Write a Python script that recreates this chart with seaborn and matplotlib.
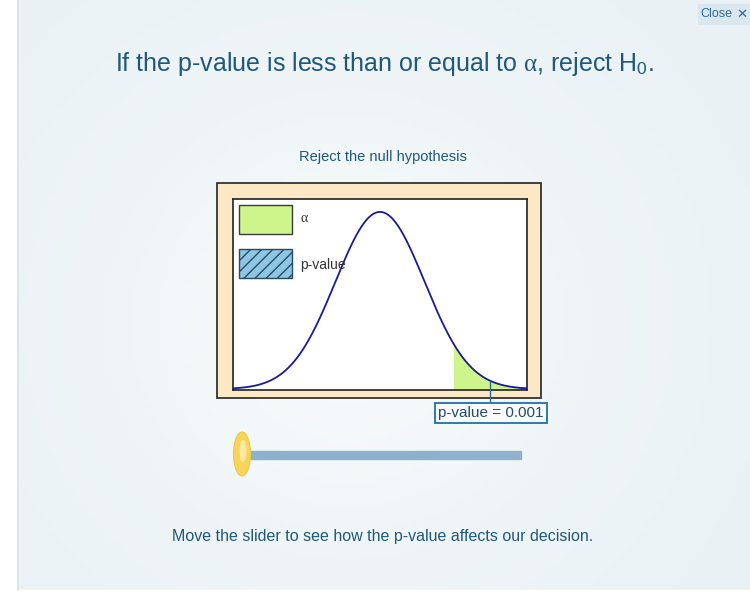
import numpy as np
import pandas as pd
import matplotlib
matplotlib.use("Agg")
import matplotlib.pyplot as plt
import seaborn as sns
from matplotlib.patches import Rectangle, Ellipse

# parameters of the chart
mean = 0.0
sd = 1.0
alpha = 0.05
alpha_cut = 1.645       # z for alpha = 0.05 (one tail)
p_value = 0.001
p_cut = 3.09            # z for p = 0.001
marker_z = 2.47         # where the label pointer touches the curve
x_range = (-3.3, 3.3)

title_text = r"If the p-value is less than or equal to $\alpha$, reject H$_\mathrm{0}$."
subtitle_text = "Reject the null hypothesis"
footer_text = "Move the slider to see how the p-value affects our decision."
legend_labels = [r"$\alpha$", "p-value"]
pointer_label = "p-value = %.3f" % p_value

sns.set_theme(style="white")
plt.rcParams["font.family"] = ["Liberation Sans", "DejaVu Sans"]
plt.rcParams["mathtext.fontset"] = "custom"
plt.rcParams["mathtext.rm"] = "Liberation Sans"
plt.rcParams["mathtext.it"] = "Liberation Serif"

text_col = "#1f5878"
W, H = 750, 592
fig = plt.figure(figsize=(7.5, 5.92), dpi=100)

# background "screen" in pixel coordinates
bg = fig.add_axes([0, 0, 1, 1])
bg.set_xlim(0, W)
bg.set_ylim(H, 0)
bg.axis("off")
yy, xx = np.mgrid[0:1:120j, 0:1:160j]
grad = np.sqrt(((xx - 0.45) * 1.2) ** 2 + (yy - 0.55) ** 2)
bg.imshow(grad, cmap=matplotlib.colors.LinearSegmentedColormap.from_list(
    "bgc", ["#f8fbfc", "#eff5f7", "#e9f1f5"]), extent=(18, W, 590, 0),
    aspect="auto", zorder=0, vmin=0, vmax=0.8)
bg.add_patch(Rectangle((0, 0), 18, H, color="white", zorder=1))
bg.add_patch(Rectangle((0, 590), W, 2, color="white", zorder=1))
bg.plot([18, 18], [0, 590], color="#cfe0ea", lw=1.2, zorder=2)

# close button
bg.add_patch(Rectangle((698, 4), 52, 20, color="#dbe7ee", zorder=2))
bg.text(716, 14, "Close", ha="center", va="center", fontsize=9,
        color="#2d6a95", zorder=3)
bg.text(742, 14, "✕", ha="center", va="center", fontsize=9.5, fontweight="bold",
        color="#2d6a95", family="DejaVu Sans", zorder=3)

bg.text(384, 64, title_text, ha="center", va="center", fontsize=18, color=text_col)
bg.text(383, 157, subtitle_text, ha="center", va="center", fontsize=10.5, color=text_col)
bg.text(383, 536, footer_text, ha="center", va="center", fontsize=11.5, color=text_col)

# tan frame around the plot
bg.add_patch(Rectangle((217, 183), 324, 215, facecolor="#fde8c6",
                       edgecolor="#333333", lw=1.3, zorder=2))

# slider
bg.add_patch(Rectangle((248, 451), 273, 8, color="#8fb1cd", zorder=2))
bg.add_patch(Ellipse((242, 454), 17, 44, facecolor="#f6d45a", edgecolor="#f0c84a",
                     lw=0.8, zorder=3))
bg.add_patch(Ellipse((243, 451), 7, 22, facecolor="#fcefb5", edgecolor="none",
                     alpha=0.8, zorder=3))

# the distribution plot
ax = fig.add_axes([233 / W, 1 - 390 / H, (527 - 233) / W, (390 - 199) / H])
z = np.linspace(x_range[0], x_range[1], 600)
dens = np.exp(-0.5 * ((z - mean) / sd) ** 2) / (sd * np.sqrt(2 * np.pi))
curve = pd.DataFrame({"z": z, "density": dens})

tail = curve[curve["z"] >= alpha_cut]
ax.fill_between(tail["z"], 0, tail["density"], color="#cdf58c", lw=0, zorder=1)
ptail = curve[curve["z"] >= p_cut]
ax.fill_between(ptail["z"], 0, ptail["density"], facecolor="#8cc7e6",
                edgecolor="#2c4a5e", hatch="///", lw=0, zorder=2)
sns.lineplot(data=curve, x="z", y="density", color="#1a1a96", lw=1.3, ax=ax, zorder=3)

ax.set_xlim(*x_range)
ax.set_ylim(-0.002, 0.428)
ax.set_xticks([])
ax.set_yticks([])
ax.set_xlabel("")
ax.set_ylabel("")
ax.set_facecolor("white")
for s in ax.spines.values():
    s.set_color("#222222")
    s.set_linewidth(1.2)
    s.set_visible(True)

# legend drawn as boxes inside the plot (axes fraction coords)
lx0, lw_, lh = 6 / 294, 53 / 294, 29 / 191
ax.add_patch(Rectangle((lx0, 1 - 35 / 191), lw_, lh, transform=ax.transAxes,
                       facecolor="#cdf58c", edgecolor="#3a3a3a", lw=1))
ax.add_patch(Rectangle((lx0, 1 - 79 / 191), lw_, lh, transform=ax.transAxes,
                       facecolor="#8cc7e6", edgecolor="#2c4a5e", hatch="///", lw=1))
ax.text(67 / 294, 1 - 19 / 191, legend_labels[0], transform=ax.transAxes,
        ha="left", va="center", fontsize=10, color="#333333")
ax.text(67 / 294, 1 - 66 / 191, legend_labels[1], transform=ax.transAxes,
        ha="left", va="center", fontsize=10, color="#333333")

# pointer label below the plot
mz_dens = np.exp(-0.5 * ((marker_z - mean) / sd) ** 2) / (sd * np.sqrt(2 * np.pi))
ax.plot([marker_z, marker_z], [mz_dens, -0.045], color="#2d6a95", lw=1,
        clip_on=False, zorder=4)
ax.text(marker_z + 0.02, -0.054, pointer_label, ha="center", va="center",
        fontsize=11, color="#2a4a66", clip_on=False, zorder=5,
        bbox=dict(boxstyle="square,pad=0.22", facecolor="#f7fbfd",
                  edgecolor="#2d7aa8", lw=1.4))

fig.savefig("out.png", dpi=100)
